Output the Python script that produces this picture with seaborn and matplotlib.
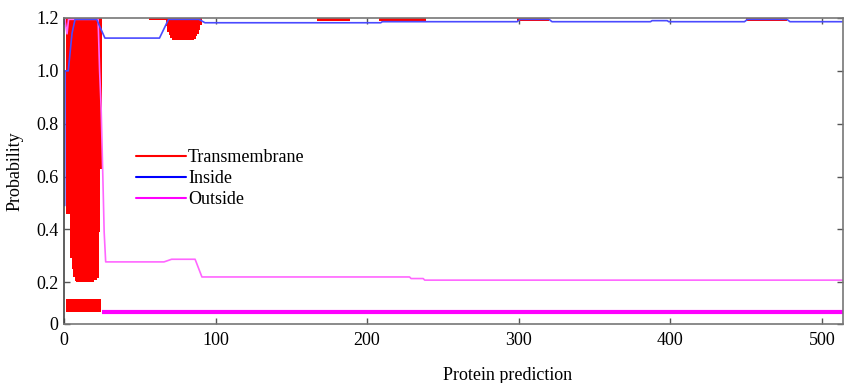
import matplotlib
matplotlib.use('Agg')
import matplotlib.pyplot as plt
from matplotlib.lines import Line2D
import seaborn as sns
import pandas as pd
import numpy as np

# --- data ---
# transmembrane bars hanging from the top (residue start, lower end)
tm_pos = [1, 2, 3, 4, 5, 6, 7, 8, 9, 10, 11, 12, 13, 14, 15, 16, 17, 18, 19, 20, 21, 22, 23, 24,
          67, 68, 69, 70, 71, 72, 73, 74, 75, 76, 77, 78, 79, 80, 81, 82, 83, 84, 85, 86, 87, 88, 89, 90]
tm_low = [0.46, 0.46, 0.46, 0.29, 0.25, 0.22, 0.205, 0.2, 0.2, 0.2, 0.2, 0.2, 0.2, 0.2, 0.2, 0.2,
          0.2, 0.2, 0.2, 0.21, 0.21, 0.215, 0.39, 0.63,
          1.17, 1.148, 1.135, 1.123, 1.117, 1.117, 1.117, 1.117, 1.117, 1.117, 1.117, 1.117, 1.117,
          1.117, 1.117, 1.117, 1.117, 1.117, 1.117, 1.12, 1.13, 1.14, 1.155, 1.175]
# small transmembrane bits near the top (start, end, lower end)
tm_bits_start = [56, 167, 208, 299, 450]
tm_bits_end = [67, 189, 239, 320, 477]
tm_bits_low = [1.193, 1.187, 1.187, 1.189, 1.189]

inside_x = [0.5, 0.7, 2.8, 5.3, 7.3, 21.5, 27, 63, 69, 89, 93, 209, 210, 299, 301, 320, 322,
            387, 388, 398, 399, 449, 451, 477, 479, 514]
inside_y = [0.49, 1.0, 1.0, 1.142, 1.195, 1.195, 1.124, 1.124, 1.195, 1.195, 1.182, 1.182, 1.186,
            1.186, 1.195, 1.195, 1.186, 1.186, 1.19, 1.19, 1.186, 1.186, 1.195, 1.195, 1.186, 1.186]

outside_x = [0.5, 2, 3, 22.5, 23.5, 24.5, 25.5, 26.5, 27.5, 66, 71, 86.5, 91, 228, 229, 237, 238, 514]
outside_y = [1.195, 1.14, 1.195, 1.195, 1.0, 0.86, 0.63, 0.39, 0.277, 0.277, 0.287, 0.287, 0.22,
             0.22, 0.214, 0.214, 0.208, 0.208]

# predicted topology strip at the bottom
topo_tm = (1, 24.5, 0.088, 0.136)
topo_out = (25, 514, 0.089)

y_top = 1.2
y_bottom = 0.042
ytick_vals = [y_bottom, 0.2, 0.4, 0.6, 0.8, 1.0, 1.2]
ytick_labels = ['0', '0.2', '0.4', '0.6', '0.8', '1.0', '1.2']
xtick_vals = [0, 100, 200, 300, 400, 500]

sns.set_style('ticks')
plt.rcParams['font.family'] = ['Liberation Serif', 'DejaVu Serif']
plt.rcParams['font.size'] = 13
plt.rcParams['text.color'] = 'black'
plt.rcParams['axes.labelcolor'] = 'black'
plt.rcParams['xtick.labelcolor'] = 'black'
plt.rcParams['ytick.labelcolor'] = 'black'

fig = plt.figure(figsize=(8.44, 3.83), dpi=100)
ax = fig.add_axes([64 / 844, 59 / 383, 779 / 844, 306 / 383])

red = '#ff0000'
blue = '#4a4aff'
pink = '#ff66ff'

# hanging transmembrane bars
low = np.array(tm_low)
ax.bar(tm_pos, y_top - low, bottom=low, width=1, align='edge', color=red, linewidth=0)
bs = np.array(tm_bits_start)
be = np.array(tm_bits_end)
bl = np.array(tm_bits_low)
ax.bar(bs, y_top - bl, bottom=bl, width=be - bs, align='edge', color=red, linewidth=0)

df_in = pd.DataFrame({'x': inside_x, 'y': inside_y})
df_out = pd.DataFrame({'x': outside_x, 'y': outside_y})
sns.lineplot(data=df_out, x='x', y='y', ax=ax, color=pink, linewidth=1.2, sort=False, estimator=None)
sns.lineplot(data=df_in, x='x', y='y', ax=ax, color=blue, linewidth=1.2, sort=False, estimator=None)

# topology strip
ax.bar([topo_tm[0]], [topo_tm[3] - topo_tm[2]], bottom=topo_tm[2], width=topo_tm[1] - topo_tm[0],
       align='edge', color=red, linewidth=0)
ax.hlines(topo_out[2], topo_out[0], topo_out[1], color='#ff00ff', linewidth=3)

ax.set_xlim(0, 514)
ax.set_ylim(y_bottom, y_top)
ax.set_xticks(xtick_vals)
ax.set_yticks(ytick_vals)
ax.set_yticklabels(ytick_labels)
ax.tick_params(direction='in', length=4, width=1, top=True, right=True, color='#555555',
               labelsize=13, labelcolor='black')
ax.tick_params(axis='x', pad=6)
ax.tick_params(axis='y', pad=4)
for s in ax.spines.values():
    s.set_visible(True)
    s.set_color('#777777')
    s.set_linewidth(1.2)
ax.spines['left'].set_color('#444444')

ax.set_xlabel('Protein prediction', fontsize=13, color='black')
ax.set_ylabel('Probability', fontsize=13, color='black')
ax.xaxis.set_label_coords(0.569, -0.14)
ax.yaxis.set_label_coords(-0.052, 0.5)

handles = [Line2D([], [], color=red, lw=1.5),
           Line2D([], [], color='#0000ff', lw=1.5),
           Line2D([], [], color='#ff00ff', lw=1.5)]
leg = ax.legend(handles, ['Transmembrane', 'Inside', 'Outside'], loc='upper left',
                bbox_to_anchor=(0.092, 0.572), frameon=False, fontsize=13, handlelength=2.8,
                handletextpad=0.1, labelspacing=0.22, borderpad=0, borderaxespad=0)
for t in leg.get_texts():
    t.set_color('black')

fig.savefig('out.png', dpi=100)
